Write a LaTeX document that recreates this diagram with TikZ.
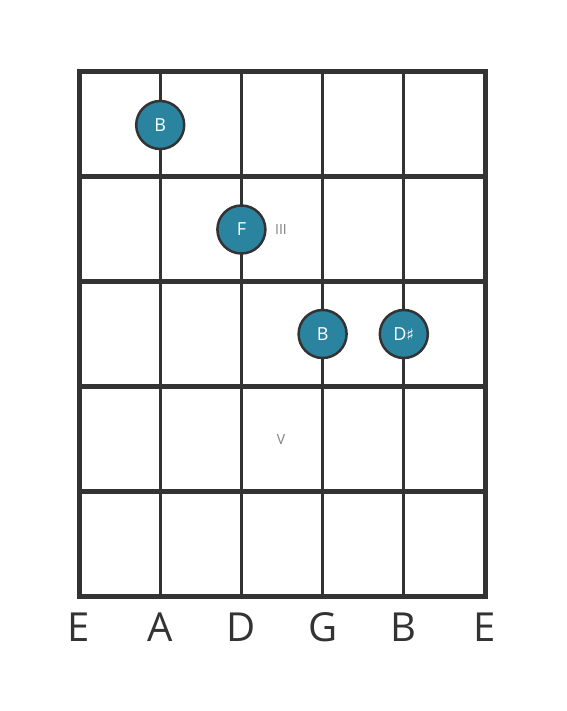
\documentclass[tikz,border=0pt]{standalone}
\usepackage{fontspec}
\setmainfont{Open Sans}
\newfontfamily\symfont{DejaVu Sans}
\definecolor{linec}{HTML}{333333}
\definecolor{notec}{HTML}{2A84A0}
\definecolor{romanc}{HTML}{808080}
\begin{document}
\begin{tikzpicture}[x=1pt,y=-1pt,
  fret/.style={draw=linec,line width=5pt},
  string/.style={draw=linec,line width=3pt},
  note/.style={circle,fill=notec,draw=linec,line width=2.5pt,minimum size=48pt,inner sep=0pt,text=white,font=\fontsize{18}{18}\selectfont},
  roman/.style={text=romanc,font=\fontsize{14}{14}\selectfont,inner sep=0pt},
  strlabel/.style={text=linec,font=\fontsize{40}{40}\selectfont,inner sep=0pt}]
\useasboundingbox (0,0) rectangle (566,711);
% strings
\foreach \i in {1,...,4} {
  \pgfmathsetmacro{\xx}{79+\i*81.2}
  \draw[string] (\xx,72) -- (\xx,596);
}
% frets
\foreach \j in {1,...,4} {
  \pgfmathsetmacro{\yy}{72+\j*104.8}
  \draw[fret] (79,\yy) -- (485,\yy);
}
\draw[fret] (79,72) rectangle (485,596);
% notes
\node[note] (n1) at (160.2,125) {B};
\node[note] (n2) at (241.4,229.5) {F};
\node[note] (n3) at (322.6,334) {B};
\node[note] (n4) at (403.8,334) {D{\symfont\fontsize{16}{16}\selectfont ♯}};
\node[roman] (r3) at (281,230) {III};
\node[roman] (r5) at (281,439) {V};
% string labels
\node[strlabel] (l1) at (79,627) {E};
\node[strlabel] (l2) at (160.2,627) {A};
\node[strlabel] (l3) at (241.4,627) {D};
\node[strlabel] (l4) at (322.6,627) {G};
\node[strlabel] (l5) at (403.8,627) {B};
\node[strlabel] (l6) at (485,627) {E};
\end{tikzpicture}
\end{document}
